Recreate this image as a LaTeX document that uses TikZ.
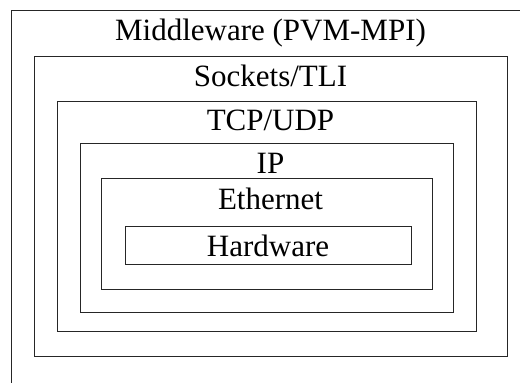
\documentclass[tikz,border=0pt]{standalone}
\usepackage{fontspec}
\setmainfont{Liberation Serif}
\begin{document}
\begin{tikzpicture}[x=1pt,y=-1pt,
  layer/.style={draw=black!85, line width=0.9pt},
  caption/.style={anchor=base, inner sep=0pt, font=\fontsize{31}{34}\selectfont}]
  \useasboundingbox (0,0) rectangle (520,383);
  \clip (0,0) rectangle (520,383);
  % nested protocol layers, outermost first
  \draw[layer] (11,10)     coordinate (mwA) rectangle (531,410)  coordinate (mwB);
  \draw[layer] (34.5,56.5) coordinate (skA) rectangle (507.5,356) coordinate (skB);
  \draw[layer] (57.5,101)  coordinate (tcA) rectangle (476.5,331) coordinate (tcB);
  \draw[layer] (80.5,143.5) coordinate (ipA) rectangle (453.5,312.5) coordinate (ipB);
  \draw[layer] (101.5,178.5) coordinate (etA) rectangle (432.5,289) coordinate (etB);
  \draw[layer] (125,226)   coordinate (hwA) rectangle (411.5,264) coordinate (hwB);
  % layer names
  \node[caption] (mw) at (270.5,40)  {Middleware (PVM-MPI)};
  \node[caption] (sk) at (270.5,86)  {Sockets/TLI};
  \node[caption] (tc) at (270.5,130) {TCP/UDP};
  \node[caption] (ip) at (270.5,173) {IP};
  \node[caption] (et) at (270.5,209) {Ethernet};
  \node[caption] (hw) at (268,256) {Hardware};
\end{tikzpicture}
\end{document}
